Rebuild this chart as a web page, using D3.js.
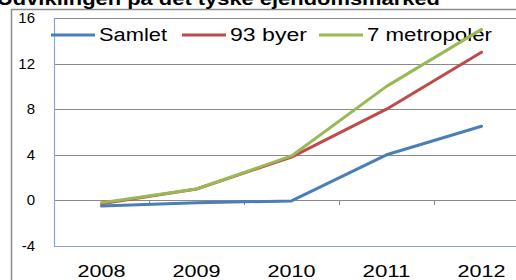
<!DOCTYPE html>
<html>
<head>
<meta charset="utf-8">
<script src="https://cdn.jsdelivr.net/npm/d3@7"></script>
<style>
  body { margin: 0; background: #fff; }
  svg { display: block; font-family: "Liberation Sans", Arial, sans-serif; }
</style>
</head>
<body>
<svg></svg>
<script>
const years = ["2008", "2009", "2010", "2011", "2012"];
const samlet = [-0.5, -0.2, -0.05, 4, 6.5];
const byer93 = [-0.3, 1, 3.8, 8, 13];
const metropoler7 = [-0.2, 1, 3.9, 10, 15];
const yTicks = [-4, 0, 4, 8, 12, 16];

const seriesNames = ["Samlet", "93 byer", "7 metropoler"];
const seriesColors = ["#4a7ebb", "#be4b48", "#98b954"];
const series = [samlet, byer93, metropoler7];

const width = 516;
const height = 280;

const svg = d3.select("svg").attr("width", width).attr("height", height);

// outer frame (runs off the right and bottom edges)
svg.append("rect")
  .attr("x", 11.5).attr("y", 9.5)
  .attr("width", 600).attr("height", 400)
  .attr("fill", "none")
  .attr("stroke", "#8c8c8c")
  .attr("stroke-width", 1.5);

// title, cut off at the top
svg.append("text")
  .attr("x", -3).attr("y", 5)
  .attr("textLength", 443)
  .attr("lengthAdjust", "spacingAndGlyphs")
  .style("font-weight", "bold")
  .style("font-size", "19px")
  .text("Udviklingen på det tyske ejendomsmarked");

const xScale = d3.scaleBand().domain(years).range([54, 529]);
const yScale = d3.scaleLinear().domain([-4, 16]).range([246, 18]);

// gridlines
svg.append("g")
  .selectAll("line")
  .data(yTicks.filter((d) => d !== -4))
  .enter()
  .append("line")
  .attr("x1", 54).attr("x2", width)
  .attr("y1", (d) => Math.round(yScale(d)) + 0.5)
  .attr("y2", (d) => Math.round(yScale(d)) + 0.5)
  .attr("stroke", "#8a8a8a")
  .attr("stroke-width", 1);

// category tick marks at zero line
svg.append("g")
  .selectAll("line")
  .data(years)
  .enter()
  .append("line")
  .attr("x1", (d) => Math.round(xScale(d)) + 0.5)
  .attr("x2", (d) => Math.round(xScale(d)) + 0.5)
  .attr("y1", Math.round(yScale(0)))
  .attr("y2", Math.round(yScale(0)) + 5)
  .attr("stroke", "#8a8a8a");

// axes lines
svg.append("line")
  .attr("x1", 54.5).attr("x2", 54.5)
  .attr("y1", yScale(16)).attr("y2", yScale(-4))
  .attr("stroke", "#86a9d8").attr("stroke-width", 1.2);
svg.append("line")
  .attr("x1", 54).attr("x2", width)
  .attr("y1", Math.round(yScale(-4)) + 0.5).attr("y2", Math.round(yScale(-4)) + 0.5)
  .attr("stroke", "#86a9d8").attr("stroke-width", 1.2);

// y labels
svg.append("g")
  .selectAll("text")
  .data(yTicks)
  .enter()
  .append("text")
  .attr("x", 35)
  .attr("y", (d) => yScale(d) + 5)
  .attr("text-anchor", "end")
  .style("font-size", "15px")
  .text((d) => d);

// x labels
svg.append("g")
  .selectAll("text")
  .data(years)
  .enter()
  .append("text")
  .attr("x", (d) => xScale(d) + xScale.bandwidth() / 2)
  .attr("y", 277)
  .attr("text-anchor", "middle")
  .attr("textLength", 48)
  .attr("lengthAdjust", "spacingAndGlyphs")
  .style("font-size", "17px")
  .text((d) => d);

// legend
const legendX = [51, 182, 319];
const legendW = [68, 77, 125];
const legend = svg.append("g");
seriesNames.forEach((name, i) => {
  legend.append("line")
    .attr("x1", legendX[i]).attr("x2", legendX[i] + 44)
    .attr("y1", 35).attr("y2", 35)
    .attr("stroke", seriesColors[i])
    .attr("stroke-width", 3);
  legend.append("text")
    .attr("x", legendX[i] + 48)
    .attr("y", 41)
    .attr("textLength", legendW[i])
    .attr("lengthAdjust", "spacingAndGlyphs")
    .style("font-size", "18px")
    .text(name);
});

// lines
const line = d3.line()
  .x((d, i) => xScale(years[i]) + xScale.bandwidth() / 2)
  .y((d) => yScale(d));

series.forEach((s, i) => {
  svg.append("path")
    .datum(s)
    .attr("d", line)
    .attr("fill", "none")
    .attr("stroke", seriesColors[i])
    .attr("stroke-width", 3)
    .attr("stroke-linejoin", "round")
    .attr("stroke-linecap", "round");
});
</script>
</body>
</html>
